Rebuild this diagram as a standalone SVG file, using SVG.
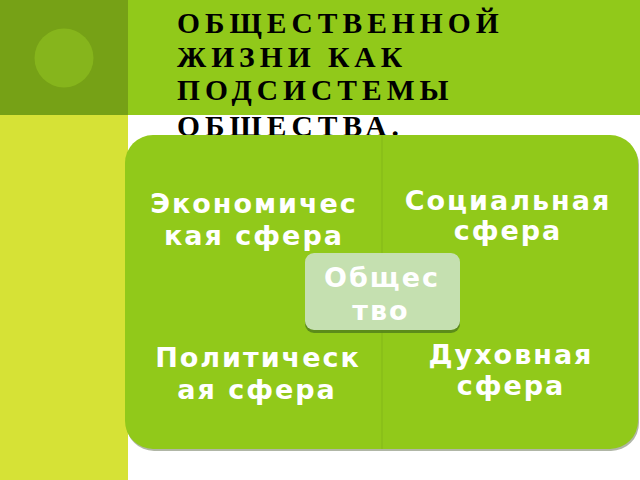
<svg xmlns="http://www.w3.org/2000/svg" width="640" height="480" viewBox="0 0 640 480">
<defs>
<style>
.title{font-family:"Liberation Serif","Times New Roman",serif;font-weight:bold;font-size:29.5px;letter-spacing:5px;fill:#000}
.lbl{font-family:"DejaVu Sans",sans-serif;font-weight:bold;font-size:27px;letter-spacing:2px;fill:#fff;text-anchor:middle}
.q{fill:#91c91a}
</style>
</defs>
<rect x="0" y="0" width="640" height="480" fill="#ffffff"/>
<rect x="0" y="115" width="128" height="365" fill="#d6e236"/>
<rect x="0" y="0" width="128" height="115" fill="#76a116"/>
<rect x="128" y="0" width="512" height="115" fill="#91c91a"/>
<circle cx="64" cy="58" r="29.5" fill="#86b51c"/>
<g id="title">
<text class="title" x="177" y="33">ОБЩЕСТВЕННОЙ</text>
<text class="title" x="177" y="67">ЖИЗНИ КАК</text>
<text class="title" x="177" y="100">ПОДСИСТЕМЫ</text>
<text class="title" x="177" y="136">ОБЩЕСТВА.</text>
</g>
<rect x="126" y="137" width="513" height="314" rx="28" fill="#6f7a5c" opacity="0.55"/>
<g id="economic">
<path class="q" d="M125,292 V163 A28,28 0 0 1 153,135 H382 V292 Z"/>
<text class="lbl" x="254" y="213">Экономичес</text>
<text class="lbl" x="254" y="245">кая сфера</text>
</g>
<g id="social">
<path class="q" d="M382,135 H610 A28,28 0 0 1 638,163 V292 H382 Z"/>
<text class="lbl" x="508" y="210">Социальная</text>
<text class="lbl" x="508" y="240">сфера</text>
</g>
<g id="political">
<path class="q" d="M125,292 H382 V449 H153 A28,28 0 0 1 125,421 Z"/>
<text class="lbl" x="258" y="367">Политическ</text>
<text class="lbl" x="257" y="399">ая сфера</text>
</g>
<g id="spiritual">
<path class="q" d="M382,292 H638 V421 A28,28 0 0 1 610,449 H382 Z"/>
<text class="lbl" x="511" y="364">Духовная</text>
<text class="lbl" x="511" y="395">сфера</text>
</g>
<line x1="382" y1="135" x2="382" y2="449" stroke="#83b718" stroke-width="1"/>
<g id="society">
<rect x="305" y="255" width="155" height="78" rx="9" fill="#4f7d1a" opacity="0.8"/>
<rect x="305" y="253" width="155" height="77" rx="9" fill="#c5e0b0"/>
<text class="lbl" x="382" y="287">Общес</text>
<text class="lbl" x="381" y="320">тво</text>
</g>
</svg>
